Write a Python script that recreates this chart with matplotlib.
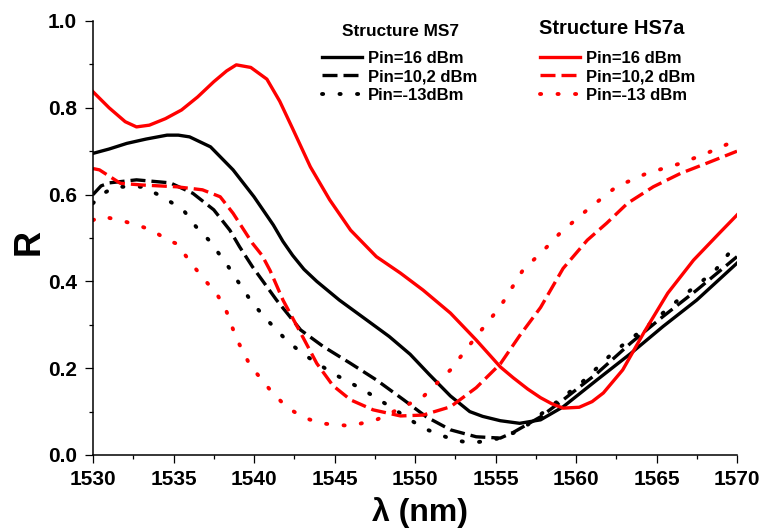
import matplotlib
matplotlib.use('Agg')
import matplotlib.pyplot as plt
from matplotlib.ticker import MultipleLocator, FormatStrFormatter

plt.rcParams['font.family'] = ['Liberation Sans', 'DejaVu Sans']
plt.rcParams['font.weight'] = 'bold'

# Structure MS7, Pin=16 dBm
ms7_16_x = [1530, 1531, 1532.1, 1533.3, 1534.6, 1535.3, 1536.0, 1537.3, 1538.7, 1540.0, 1541.2,
            1541.8, 1542.4, 1543.1, 1543.9, 1545.3, 1547.0, 1548.4, 1549.7, 1550.9, 1552.2,
            1553.4, 1554.2, 1555.3, 1556.5, 1557.8, 1559.2, 1561.3, 1563.4, 1565.4, 1567.5, 1570]
ms7_16_y = [0.695, 0.705, 0.718, 0.728, 0.737, 0.737, 0.733, 0.710, 0.657, 0.595, 0.530,
            0.492, 0.460, 0.428, 0.400, 0.357, 0.311, 0.273, 0.232, 0.185, 0.136,
            0.100, 0.089, 0.079, 0.073, 0.081, 0.111, 0.173, 0.234, 0.296, 0.357, 0.442]

# Structure MS7, Pin=10,2 dBm
ms7_10_x = [1530, 1530.5, 1531, 1532.7, 1534.8, 1536.2, 1537.5, 1538.5, 1539.1, 1539.9, 1541.4,
            1542.9, 1544.3, 1546.0, 1547.6, 1549.3, 1550.7, 1552.2, 1553.8, 1555.3, 1556.1,
            1557.8, 1559.2, 1561.3, 1563.4, 1565.4, 1567.5, 1570]
ms7_10_y = [0.60, 0.62, 0.627, 0.634, 0.627, 0.603, 0.565, 0.518, 0.48, 0.434, 0.357,
            0.288, 0.250, 0.211, 0.173, 0.127, 0.088, 0.058, 0.042, 0.039, 0.052,
            0.088, 0.127, 0.188, 0.258, 0.319, 0.380, 0.457]

# Structure MS7, Pin=-13 dBm
ms7_m13_x = [1530, 1530.5, 1531.4, 1533.1, 1534.3, 1535.6, 1536.4, 1537.2, 1538.3, 1539.0, 1539.9,
             1541.0, 1542.0, 1543.0, 1544.9, 1546.8, 1548.6, 1550.5, 1551.6, 1552.4, 1553.4,
             1554.2, 1555.3, 1556.6, 1558.2, 1560.3, 1562.3, 1564.5, 1566.5, 1568.6, 1570]
ms7_m13_y = [0.58, 0.60, 0.618, 0.618, 0.595, 0.565, 0.526, 0.495, 0.44, 0.40, 0.35,
             0.304, 0.265, 0.234, 0.188, 0.15, 0.108, 0.062, 0.046, 0.035, 0.028,
             0.031, 0.039, 0.058, 0.105, 0.165, 0.236, 0.299, 0.362, 0.423, 0.488]

# Structure HS7a, Pin=16 dBm
hs7_16_x = [1530, 1531, 1532, 1532.7, 1533.5, 1534.5, 1535.5, 1536.5, 1537.5, 1538.3, 1538.9,
            1539.8, 1540.8, 1541.6, 1542.4, 1543.5, 1544.7, 1546.0, 1547.6, 1549.1, 1550.5,
            1552.2, 1553.8, 1555.3, 1556.1, 1557.0, 1557.8, 1558.5, 1559.2, 1560.2, 1561.0,
            1561.7, 1562.9, 1564.2, 1565.7, 1567.3, 1568.9, 1570]
hs7_16_y = [0.837, 0.80, 0.768, 0.756, 0.76, 0.775, 0.795, 0.825, 0.86, 0.885, 0.899,
            0.893, 0.866, 0.815, 0.752, 0.664, 0.588, 0.518, 0.457, 0.419, 0.380,
            0.327, 0.265, 0.203, 0.178, 0.152, 0.132, 0.118, 0.108, 0.110, 0.123,
            0.143, 0.196, 0.281, 0.373, 0.449, 0.511, 0.553]

# Structure HS7a, Pin=10,2 dBm
hs7_10_x = [1530, 1530.4, 1531.7, 1533.1, 1535.2, 1536.8, 1537.9, 1538.7, 1539.5, 1539.9, 1540.5,
            1541.0, 1541.8, 1542.9, 1543.9, 1544.9, 1546.0, 1547.4, 1549.1, 1550.5, 1552.2,
            1553.8, 1555.3, 1556.5, 1557.8, 1559.2, 1560.7, 1561.9, 1563.2, 1564.8, 1566.5,
            1568.1, 1570]
hs7_10_y = [0.66, 0.657, 0.626, 0.622, 0.618, 0.611, 0.595, 0.557, 0.511, 0.488, 0.46,
            0.425, 0.357, 0.281, 0.211, 0.160, 0.127, 0.104, 0.090, 0.092, 0.111,
            0.155, 0.21, 0.275, 0.34, 0.43, 0.495, 0.534, 0.580, 0.618, 0.649,
            0.672, 0.70]

# Structure HS7a, Pin=-13 dBm
hs7_m13_x = [1530, 1530.5, 1531.7, 1532.7, 1533.7, 1534.6, 1535.2, 1536.0, 1536.8, 1537.7, 1538.3,
             1538.9, 1539.75, 1541.0, 1542.0, 1543.0, 1544.1, 1546.0, 1547.6, 1548.9, 1550.5,
             1552.2, 1553.8, 1555.3, 1556.7, 1558.0, 1559.0, 1560.7, 1562.5, 1564.4, 1566.5,
             1568.1, 1570]
hs7_m13_y = [0.541, 0.55, 0.541, 0.53, 0.518, 0.495, 0.487, 0.447, 0.409, 0.371, 0.33,
             0.269, 0.207, 0.150, 0.111, 0.088, 0.073, 0.067, 0.081, 0.104, 0.134,
             0.196, 0.273, 0.342, 0.426, 0.472, 0.511, 0.565, 0.618, 0.649, 0.672,
             0.695, 0.726]

fig = plt.figure(figsize=(7.6, 5.31), dpi=100)
ax = fig.add_axes([93 / 760, 1 - 455 / 531, 644 / 760, 434 / 531])

lw = 2.4
dash = (0, (4.5, 1.8))
dot = (0, (0.3, 4.2))

l1, = ax.plot(ms7_16_x, ms7_16_y, color='black', lw=lw, label='Pin=16 dBm')
l2, = ax.plot(ms7_10_x, ms7_10_y, color='black', lw=lw, ls=dash, label='Pin=10,2 dBm')
l3, = ax.plot(ms7_m13_x, ms7_m13_y, color='black', lw=2.8, ls=dot, dash_capstyle='round',
              label='Pin=-13dBm')
r1, = ax.plot(hs7_16_x, hs7_16_y, color='red', lw=lw, label='Pin=16 dBm')
r2, = ax.plot(hs7_10_x, hs7_10_y, color='red', lw=lw, ls=dash, label='Pin=10,2 dBm')
r3, = ax.plot(hs7_m13_x, hs7_m13_y, color='red', lw=2.8, ls=dot, dash_capstyle='round',
              label='Pin=-13 dBm')

ax.set_xlim(1530, 1570)
ax.set_ylim(0, 1.0)
ax.xaxis.set_major_locator(MultipleLocator(5))
ax.xaxis.set_minor_locator(MultipleLocator(2.5))
ax.yaxis.set_major_locator(MultipleLocator(0.2))
ax.yaxis.set_minor_locator(MultipleLocator(0.1))
ax.yaxis.set_major_formatter(FormatStrFormatter('%.1f'))
ax.spines['top'].set_visible(False)
ax.spines['right'].set_visible(False)
for s in ['left', 'bottom']:
    ax.spines[s].set_linewidth(1.1)
ax.tick_params(which='major', direction='out', length=5.5, width=0.9, labelsize=15)
ax.tick_params(axis='x', which='major', pad=5)
ax.tick_params(axis='y', which='major', pad=6)
ax.tick_params(which='minor', direction='out', length=3, width=0.9)
for t in ax.get_xticklabels() + ax.get_yticklabels():
    t.set_fontweight('bold')

ax.set_xlabel('λ (nm)', fontsize=23, fontweight='bold')
ax.xaxis.set_label_coords((420 - 93) / 644, (455 - 513) / 434)
ax.xaxis.label.set_va('center')
ax.set_ylabel('R', fontsize=26, fontweight='bold')
ax.yaxis.set_label_coords((29 - 93) / 644, 0.49)
ax.yaxis.label.set_va('center')

fig.text(400 / 760, 1 - 32 / 531, 'Structure MS7', ha='center', va='center',
         fontsize=12.4, fontweight='bold')
fig.text(612 / 760, 1 - 29 / 531, 'Structure HS7a', ha='center', va='center',
         fontsize=14.5, fontweight='bold')

leg_kw = dict(loc='upper left', frameon=False, fontsize=12, borderpad=0, borderaxespad=0,
              handlelength=2.4, handletextpad=0.35, labelspacing=0.2,
              bbox_transform=fig.transFigure)
leg1 = ax.legend(handles=[l1, l2, l3], bbox_to_anchor=(322 / 760, 1 - 51 / 531), **leg_kw)
for t in leg1.get_texts():
    t.set_fontweight('bold')
ax.add_artist(leg1)
leg2 = ax.legend(handles=[r1, r2, r3], bbox_to_anchor=(540 / 760, 1 - 51 / 531), **leg_kw)
for t in leg2.get_texts():
    t.set_fontweight('bold')

fig.savefig('out.png', dpi=100)
